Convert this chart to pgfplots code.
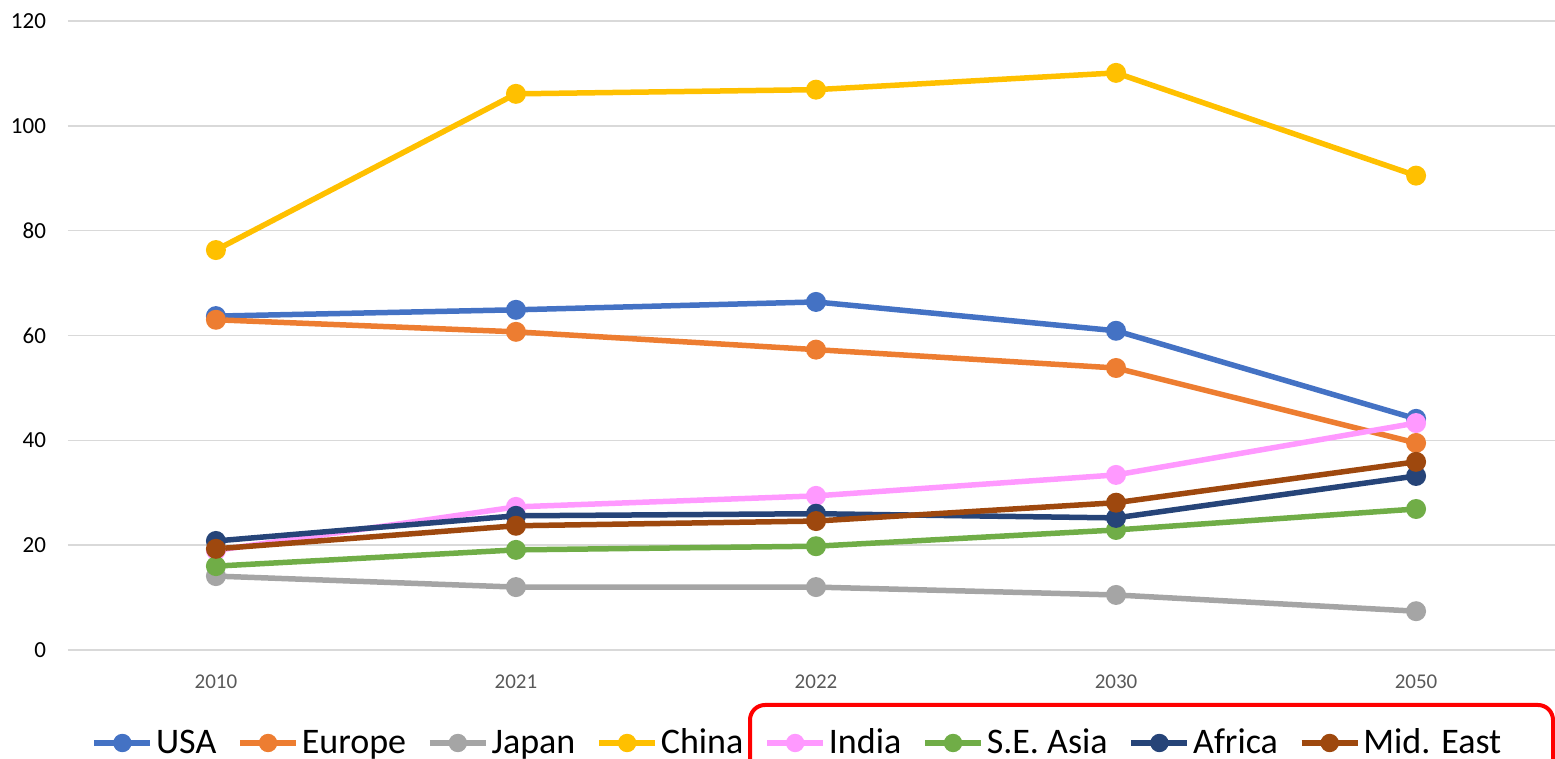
\documentclass[border=0pt]{standalone}
\usepackage{fontspec}
\setmainfont{Carlito}
\usepackage{pgfplots}
\pgfplotsset{compat=1.18}

\definecolor{cUSA}{HTML}{4472C4}
\definecolor{cEurope}{HTML}{ED7D31}
\definecolor{cJapan}{HTML}{A5A5A5}
\definecolor{cChina}{HTML}{FFC000}
\definecolor{cIndia}{HTML}{FF99FF}
\definecolor{cSEAsia}{HTML}{70AD47}
\definecolor{cAfrica}{HTML}{264478}
\definecolor{cMidEast}{HTML}{9E480E}
\definecolor{gridgray}{HTML}{D9D9D9}
\definecolor{ticktext}{HTML}{595959}

\begin{document}
\begin{tikzpicture}
\clip (-34pt,-54.5pt) rectangle (743.5pt,325pt);
\begin{scope}[overlay]
\begin{axis}[
  at={(0pt,0pt)}, anchor=south west,
  scale only axis,
  width=743.5pt, height=314.5pt,
  xmin=-0.493, xmax=4.463,
  ymin=0, ymax=120,
  xtick={0,1,2,3,4},
  xticklabels={2010,2021,2022,2030,2050},
  ytick={0,20,40,60,80,100,120},
  axis line style={draw=none},
  major tick length=0pt,
  ymajorgrids,
  grid style={gridgray, line width=0.75pt},
  yticklabel style={font=\fontsize{11.5}{13}\selectfont, text=black, xshift=-7.5pt},
  xticklabel style={font=\fontsize{10.5}{12}\selectfont, text=ticktext, yshift=-9pt},
  /pgf/number format/assume math mode=true,
  every axis plot/.append style={line width=2.75pt, mark=*, mark size=3.6pt, mark options={solid}},
  legend columns=8,
  legend style={draw=none, fill=none, at={(0.4899,0)}, anchor=center, yshift=-46.5pt,
    font=\fontsize{18}{21}\selectfont,
    nodes={inner sep=0pt},
    /tikz/every odd column/.append style={column sep=1.5pt},
    /tikz/every even column/.append style={column sep=10.5pt},
    inner sep=0pt},
  legend image code/.code={%
    \draw[mark repeat=2,mark phase=2,mark size=3.2pt,#1] plot coordinates {(0pt,0pt) (14pt,0pt) (28pt,0pt)};},
  legend cell align=left,
]
\addplot[color=cUSA] coordinates {(0,63.7) (1,64.9) (2,66.4) (3,60.9) (4,44.1)};
\addlegendentry{USA}
\addplot[color=cEurope] coordinates {(0,63.0) (1,60.7) (2,57.3) (3,53.8) (4,39.5)};
\addlegendentry{Europe}
\addplot[color=cJapan] coordinates {(0,14.1) (1,12.0) (2,12.0) (3,10.5) (4,7.4)};
\addlegendentry{Japan}
\addplot[color=cChina] coordinates {(0,76.3) (1,106.1) (2,106.9) (3,110.1) (4,90.5)};
\addlegendentry{China}
\addplot[color=cIndia] coordinates {(0,19.0) (1,27.3) (2,29.4) (3,33.4) (4,43.3)};
\addlegendentry{India}
\addplot[color=cSEAsia] coordinates {(0,16.0) (1,19.1) (2,19.8) (3,22.9) (4,26.9)};
\addlegendentry{S.E. Asia}
\addplot[color=cAfrica] coordinates {(0,20.8) (1,25.6) (2,26.0) (3,25.2) (4,33.2)};
\addlegendentry{Africa}
\addplot[color=cMidEast] coordinates {(0,19.3) (1,23.7) (2,24.6) (3,28.1) (4,35.9)};
\addlegendentry{Mid. East}
\end{axis}
% highlight frame around the second half of the legend
\draw[red, line width=2pt, rounded corners=7.5pt] (341pt,-27.5pt) rectangle (742.5pt,-90pt);
\end{scope}
\end{tikzpicture}
\end{document}
